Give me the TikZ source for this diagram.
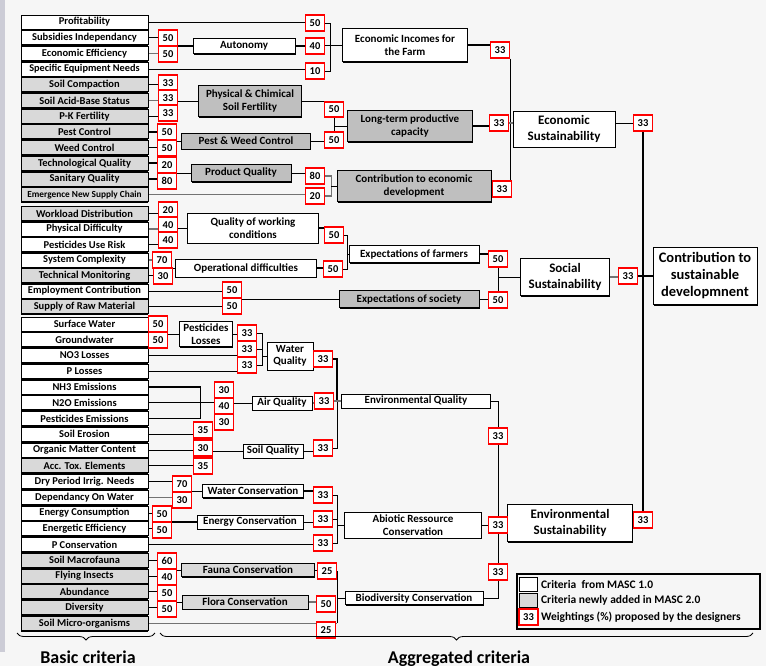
\documentclass[tikz,border=0pt]{standalone}
\usepackage{fontspec}
\setmainfont{Carlito}
\usepackage{tikz}
\usetikzlibrary{positioning, calc, shadows, decorations.pathreplacing}
\definecolor{newgray}{RGB}{217,217,217}
\definecolor{agggray}{RGB}{191,191,191}
\definecolor{bggray}{RGB}{246,246,246}
\definecolor{stripe}{RGB}{204,204,214}
\definecolor{wred}{RGB}{255,0,0}

\pgfdeclarelayer{bg}
\pgfdeclarelayer{lines}
\pgfsetlayers{bg,lines,main}

\tikzset{
	basic/.style={rectangle, draw, line width=0.8pt, fill=white, minimum width=127, minimum height=14, inner sep=0pt,
		font=\bfseries\fontsize{10.5}{11}\selectfont,
		drop shadow={shadow xshift=0.3pt, shadow yshift=-1.3pt, opacity=1, fill=black}},
	newbasic/.style={basic, fill=newgray},
	tight/.style={basic, font=\bfseries\fontsize{10.3}{11}\selectfont},
	newtight/.style={tight, fill=newgray, font=\bfseries\fontsize{9.3}{10}\selectfont},
	agg/.style={rectangle, draw, line width=0.8pt, fill=white, inner sep=0pt, align=center,
		font=\bfseries\fontsize{11}{12.5}\selectfont,
		drop shadow={shadow xshift=0.8pt, shadow yshift=-1.2pt, opacity=1, fill=black}},
	newagg/.style={agg, fill=agggray},
	lightagg/.style={agg, fill=newgray},
	topagg/.style={agg, font=\bfseries\fontsize{13}{16}\selectfont},
	wgt/.style={rectangle, draw=wred, line width=1.6pt, fill=white, minimum width=19, minimum height=15.5, inner sep=0pt,
		font=\bfseries\fontsize{10.5}{11}\selectfont},
	link/.style={line width=0.8pt},
	biglink/.style={line width=1.8pt},
	greylink/.style={line width=1.1pt, black!55},
	legendtext/.style={inner sep=0pt, font=\bfseries\fontsize{11.5}{12}\selectfont},
}

\begin{document}
\begin{tikzpicture}[x=1pt, y=-1pt]
	\useasboundingbox (0,0) rectangle (766,666);
	\begin{pgfonlayer}{bg}
		\fill[bggray] (0,0) rectangle (766,666);
		\fill[stripe] (0,0) rectangle (5,652);
	\end{pgfonlayer}

	% basic criteria
	\foreach \nm/\yy/\st/\txt in {
		prof/22/basic/Profitability,
		sub/37.7/basic/Subsidies Independancy,
		eff/53.4/basic/Economic Efficiency,
		spec/69.1/tight/Specific Equipment Needs,
		comp/84.8/newbasic/Soil Compaction,
		acid/100.5/newbasic/Soil Acid-Base Status,
		pk/116.2/newbasic/P-K Fertility,
		pest/131.9/newbasic/Pest Control,
		weed/147.6/newbasic/Weed Control,
		tech/163.3/newbasic/Technological Quality,
		san/179/newbasic/Sanitary Quality,
		emer/194.7/newtight/Emergence New Supply Chain,
		work/213.5/newbasic/Workload Distribution,
		phys/229/basic/Physical Difficulty,
		pur/244.5/basic/Pesticides Use Risk,
		sys/260/basic/System Complexity,
		tm/275.5/newbasic/Technical Monitoring,
		emp/291/basic/Employment Contribution,
		sup/306.5/newbasic/Supply of Raw Material,
		sw/324/basic/Surface Water,
		gw/339.75/basic/Groundwater,
		no3/355.5/basic/NO3 Losses,
		plos/371.25/basic/P Losses,
		nh3/387/basic/NH3 Emissions,
		n2o/402.75/basic/N2O Emissions,
		pem/418.5/basic/Pesticides Emissions,
		ero/434.25/basic/Soil Erosion,
		omc/450/basic/Organic Matter Content,
		tox/465.75/newbasic/Acc. Tox. Elements,
		dry/481.5/basic/Dry Period Irrig. Needs,
		dep/497.25/basic/Dependancy On Water,
		econ/513/basic/Energy Consumption,
		eeff/528.75/basic/Energetic Efficiency,
		pc/544.5/basic/P Conservation,
		mac/560.25/newbasic/Soil Macrofauna,
		fly/576/newbasic/Flying Insects,
		ab/591.75/newbasic/Abundance,
		div/607.5/newbasic/Diversity,
		mic/623.25/newbasic/Soil Micro-organisms} {
		\node[\st] (\nm) at (84.5,\yy) {\txt};
	}

	% aggregated criteria
	\node[agg, minimum width=102, minimum height=15] (aut) at (244,46) {Autonomy};
	\node[agg, minimum width=125, minimum height=33] (inc) at (405,45) {Economic Incomes for\\the Farm};
	\node[newagg, minimum width=103, minimum height=31] (soil) at (250,101) {Physical \& Chimical\\Soil Fertility};
	\node[newagg, minimum width=129, minimum height=16] (pw) at (246,141) {Pest \& Weed Control};
	\node[newagg, minimum width=125, minimum height=31] (ltp) at (410,126) {Long-term productive\\capacity};
	\node[newagg, minimum width=100, minimum height=17] (pq) at (241,173) {Product Quality};
	\node[newagg, minimum width=154, minimum height=31] (ced) at (414,186) {Contribution to economic\\development};
	\node[topagg, minimum width=102, minimum height=36] (ecs) at (564,129) {Economic\\Sustainability};
	\node[agg, minimum width=131, minimum height=30] (qwc) at (253,228) {Quality of working\\conditions};
	\node[agg, minimum width=141, minimum height=18] (opd) at (246,268) {Operational difficulties};
	\node[agg, minimum width=130, minimum height=17] (exf) at (414,254) {Expectations of farmers};
	\node[newagg, minimum width=140, minimum height=17] (exs) at (409,299) {Expectations of society};
	\node[topagg, minimum width=89, minimum height=37] (sos) at (565,277) {Social\\Sustainability};
	\node[agg, minimum width=104, minimum height=57, font=\bfseries\fontsize{14.5}{17}\selectfont] (csd) at (705,276) {Contribution to\\sustainable\\developmnent};
	\node[agg, minimum width=53, minimum height=25] (pl) at (206,334) {Pesticides\\Losses};
	\node[agg, minimum width=46, minimum height=28] (wq) at (290,356) {Water\\Quality};
	\node[agg, minimum width=60, minimum height=14] (aq) at (282,403) {Air Quality};
	\node[agg, minimum width=149, minimum height=14] (eq) at (416,401) {Environmental Quality};
	\node[agg, minimum width=60, minimum height=14] (sq) at (273,451) {Soil Quality};
	\node[agg, minimum width=101, minimum height=13] (wc) at (253,491) {Water Conservation};
	\node[agg, minimum width=106, minimum height=14] (ec) at (250,522) {Energy Conservation};
	\node[agg, minimum width=137, minimum height=26] (arc) at (413,525) {Abiotic Ressource\\Conservation};
	\node[lightagg, minimum width=133, minimum height=13] (fac) at (248,570) {Fauna Conservation};
	\node[lightagg, minimum width=126, minimum height=14] (flc) at (245,602) {Flora Conservation};
	\node[agg, minimum width=138, minimum height=13] (bc) at (414,598) {Biodiversity Conservation};
	\node[topagg, minimum width=125, minimum height=37] (ens) at (570,523) {Environmental\\Sustainability};

	% weightings
	\foreach \nm/\xx/\yy/\val in {
		wprof/315/23/50, waut/315/46/40, wspec/315/71/10, wsub/168/38/50, weff/168/54/50,
		winc/500/50/33, wcomp/168/83/33, wacid/168/98/33, wpk/168/113/33,
		wsoil/334/109.5/50, wpest/167/132/50, wweed/167/148/50, wpw/334/140/50,
		wltp/499/123/33, wtech/167/165/20, wsan/167/181/80, wpq/315/176/80, wem/315/196/20,
		wced/502/189/33, wecs/643/123/33,
		wwork/168/210/20, wphys/168/225/40, wpur/168/240/40, wqwc/334/235/50,
		wsys/162/260/70, wtm/163/276/30, wopd/333/269/50, wexf/498/259/50,
		wemp/232/290/50, wsup/232/306/50, wexs/498/300/50, wsos/628/276/33,
		wsw/158/324/50, wgw/158/340/50, wpesl/247/333/33, wno3/247/349/33, wplos/247/365/33,
		wwq/323/359/33, wnh3/224/390/30, wn2o/224/406/40, wpem/224/422/30, waq/324/401/33,
		wero/203/430/35, womc/203/448/30, wtox/203/466/35, wsq/323/448/33, weq/498/436/33,
		wdry/182/484/70, wdep/182/500/30, wwc/323/495/33, wecon/162/514/50, weeff/162/530/50,
		wec/323/519/33, wpc/323/543/33, warc/498/525/33,
		wmac/167/561/60, wfly/167/577/40, wab/167/593/50, wdiv/167/609/50,
		wfac/327/571/25, wflc/326/604/50, wmic/326/630/25, wbc/498/572/33, wens/643/520/33} {
		\node[wgt] (\nm) at (\xx,\yy) {\val};
	}

	\begin{pgfonlayer}{lines}
		% economic
		\draw[link] (prof.east) -- (prof.east -| wprof.west);
		\draw[link] (sub.east) -- (sub.east -| wsub.west);
		\draw[greylink] (eff.east) -- (eff.east -| weff.west);
		\draw[biglink] (aut.west) -- (aut.west -| wsub.east);
		\draw[biglink] (aut.east) -- (aut.east -| waut.west);
		\draw[link] (spec.east) -- (spec.east -| wspec.west);
		\draw[link] (wprof.east) -- ++(5,0) coordinate (bt) |- (wspec.east);
		\draw[link] (inc.west) -- (inc.west -| waut.east);
		\draw[biglink] (inc.east) -- (inc.east -| winc.west);
		\draw[link] (winc.south east) -- (winc.south east |- wced.north);
		\draw[link] (comp.east) -- (comp.east -| wcomp.west);
		\draw[greylink] (acid.east) -- (acid.east -| wacid.west);
		\draw[link] (pk.east) -- (pk.east -| wpk.west);
		\draw[link] (soil.west) -- (soil.west -| wacid.east);
		\draw[link] (soil.east) -- (soil.east -| wsoil.west);
		\draw[biglink] (pest.east) -- (pest.east -| wpest.west);
		\draw[link] (weed.east) -- (weed.east -| wweed.west);
		\draw[link] (pw.west) -- (pw.west -| wpest.east);
		\draw[link] (pw.east) -- (pw.east -| wpw.west);
		\draw[link] (wsoil.south) -- (wpw.north);
		\draw[link] (ltp.west) -- (ltp.west -| wsoil.south);
		\draw[biglink] (ltp.east) -- (ltp.east -| wltp.west);
		\draw[greylink] (wltp.east) -- (wltp.east -| ecs.west);
		\draw[biglink] (tech.east) -- (tech.east -| wtech.west);
		\draw[biglink] (san.east) -- (san.east -| wsan.west);
		\draw[link] (pq.west) -- (pq.west -| wtech.east);
		\draw[link] (pq.east) -- (pq.east -| wpq.west);
		\draw[greylink] (emer.east) -- (emer.east -| wem.west);
		\draw[greylink] (wpq.east) -- ++(6,0) coordinate (cb) |- (wem.east);
		\draw[link] (ced.west) -- (ced.west -| cb);
		\draw[link] (ced.east) -- (ced.east -| wced.west);
		\draw[link] (wecs.west) -- (wecs.west -| ecs.east);
		\draw[biglink] (wecs.south) -- (wens.north);
		\draw[biglink] (csd.west) -- (csd.west -| wecs.south);
		% social
		\draw[link] (work.east) -- (work.east -| wwork.west);
		\draw[greylink] (phys.east) -- (phys.east -| wphys.west);
		\draw[link] (pur.east) -- (pur.east -| wpur.west);
		\draw[link] (qwc.west) -- (qwc.west -| wphys.east);
		\draw[biglink] (qwc.east) -- (qwc.east -| wqwc.west);
		\draw[greylink] (sys.east) -- (sys.east -| wsys.west);
		\draw[link] (tm.east) -- (tm.east -| wtm.west);
		\draw[link] (opd.west) -- (opd.west -| wsys.east);
		\draw[biglink] (opd.east) -- (opd.east -| wopd.west);
		\draw[link] (wqwc.east) -- ++(3,0) coordinate (fb) |- (wopd.east);
		\draw[link] (exf.west) -- (exf.west -| fb);
		\draw[biglink] (exf.east) -- (exf.east -| wexf.west);
		\draw[link] (emp.east) -- (emp.east -| wemp.west);
		\draw[link] (sup.east) -- (sup.east -| wsup.west);
		\draw[link] (exs.west) -- (exs.west -| wemp.east);
		\draw[link] (exs.east) -- (exs.east -| wexs.west);
		\draw[link] (wexf.south) -- (wexs.north);
		\draw[link] (sos.west) -- (sos.west -| wexf.south);
		\draw[greylink, line width=1.8pt] (sos.east) -- (sos.east -| wsos.west);
		\draw[biglink] (wsos.east) -- (wsos.east -| wecs.south);
		% environmental
		\draw[link] (sw.east) -- (sw.east -| wsw.west);
		\draw[link] (gw.east) -- (gw.east -| wgw.west);
		\draw[link] (pl.west) -- (pl.west -| wsw.east);
		\draw[link] (pl.east) -- (pl.east -| wpesl.west);
		\draw[link] (no3.east) -- (no3.east -| wno3.west);
		\draw[link] (plos.east) -- (plos.east -| wplos.west);
		\draw[link] (wpesl.east) -- ++(5,0) coordinate (qb) |- (wplos.east);
		\draw[link] (wno3.east) -- (wno3.east -| qb);
		\draw[link] (wq.west) -- (wq.west -| qb);
		\draw[link] (wq.east) -- (wq.east -| wwq.west);
		\draw[biglink] (nh3.east) -- ++(52,0) |- (pem.east);
		\draw[link] (n2o.east) -- (n2o.east -| wn2o.west);
		\draw[link] (aq.west) -- (aq.west -| wn2o.east);
		\draw[greylink] (aq.east) -- (aq.east -| waq.west);
		\draw[link] (ero.east) -- (ero.east -| wero.west);
		\draw[link] (omc.east) -- (omc.east -| womc.west);
		\draw[link] (tox.east) -- (tox.east -| wtox.west);
		\draw[link] (sq.west) -- (sq.west -| womc.east);
		\draw[link] (sq.east) -- (sq.east -| wsq.west);
		\draw[biglink] (wwq.east) -- ++(4,0) coordinate (eb) -- (eb |- eq.west);
		\draw[link] (eb |- eq.west) |- (wsq.east);
		\draw[greylink] (waq.east) -- (eq.west);
		\draw[link] (eq.east) -| (weq.north);
		\draw[link] (weq.south) -- (warc.north);
		\draw[link] (dry.east) -- (dry.east -| wdry.west);
		\draw[greylink] (dep.east) -- (dep.east -| wdep.west);
		\draw[link] (wc.west) -- (wc.west -| wdry.east);
		\draw[biglink] (wc.east) -- (wc.east -| wwc.west);
		\draw[link] (econ.east) -- (econ.east -| wecon.west);
		\draw[link] (eeff.east) -- (eeff.east -| weeff.west);
		\draw[biglink] (ec.west) -- (ec.west -| wecon.east);
		\draw[link] (ec.east) -- (ec.east -| wec.west);
		\draw[link] (pc.east) -- (pc.east -| wpc.west);
		\draw[link] (wwc.east) -- ++(4,0) coordinate (abr) |- (wpc.east);
		\draw[link] (wec.east) -- (wec.east -| abr);
		\draw[link] (arc.west) -- (arc.west -| abr);
		\draw[link] (arc.east) -- (arc.east -| warc.west);
		\draw[link] (warc.east) -- (warc.east -| ens.west);
		\draw[link] (mac.east) -- (mac.east -| wmac.west);
		\draw[link] (fly.east) -- (fly.east -| wfly.west);
		\draw[link] (ab.east) -- (ab.east -| wab.west);
		\draw[biglink] (div.east) -- (div.east -| wdiv.west);
		\draw[link] (fac.west) -- (fac.west -| wmac.east);
		\draw[link] (flc.west) -- (flc.west -| wab.east);
		\draw[link] (fac.east) -- (fac.east -| wfac.west);
		\draw[greylink, line width=2pt] (flc.east) -- (flc.east -| wflc.west);
		\draw[greylink] (mic.east) -- (mic.east -| wfac.east);
		\draw[link] (wfac.east) -- (wfac.east |- mic.east);
		\draw[link] (bc.west) -- (bc.west -| wfac.east);
		\draw[link] (bc.east) -| (wbc.south);
		\draw[link] (warc.south) -- (wbc.north);
		\draw[link] (ens.east) -- (ens.east -| wens.west);
	\end{pgfonlayer}

	% legend
	\node[draw, line width=2pt, minimum width=243, minimum height=55, inner sep=0pt] (legend) at (638.5,601.5) {};
	\node[draw, line width=0.8pt, fill=white, minimum width=18, minimum height=14, inner sep=0pt] (lgw) at (528.5,584.5) {};
	\node[draw, line width=0.8pt, fill=newgray, minimum width=18, minimum height=14, inner sep=0pt] (lgg) at (528.5,600) {};
	\node[wgt] (lgr) at (528.5,617) {33};
	\node[legendtext, right=3pt of lgw] (lgwt) {Criteria~ from MASC 1.0};
	\node[legendtext, right=3pt of lgg] (lggt) {Criteria newly added in MASC 2.0};
	\node[legendtext, right=2pt of lgr] (lgrt) {Weightings (\%) proposed by the designers};

	% braces
	\draw[link, decorate, decoration={brace, mirror, amplitude=7pt}] (17,633) -- (155,633);
	\draw[link, decorate, decoration={brace, mirror, amplitude=7pt}] (160,633) -- (753,633);
	\node[anchor=base, font=\bfseries\fontsize{18}{18}\selectfont] (basiclbl) at (88,663) {Basic criteria};
	\node[anchor=base, font=\bfseries\fontsize{18}{18}\selectfont] (agglbl) at (459,663) {Aggregated criteria};
\end{tikzpicture}
\end{document}
